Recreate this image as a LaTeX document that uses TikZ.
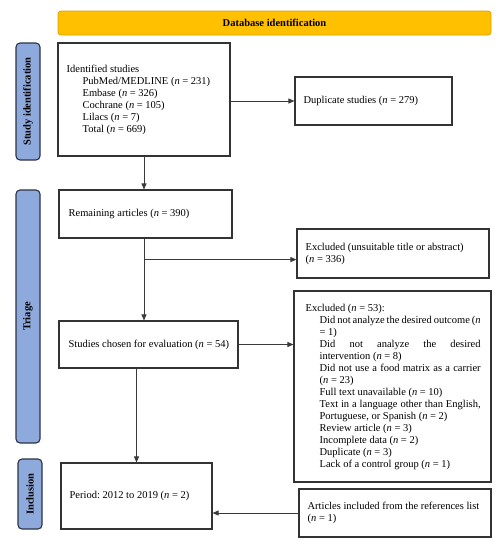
\documentclass[tikz,border=0pt]{standalone}
\usepackage{fontspec}
\setmainfont{Liberation Serif}
\usetikzlibrary{arrows.meta,positioning,calc}
\definecolor{banner}{HTML}{FFC000}
\definecolor{bannerline}{HTML}{D9A300}
\definecolor{side}{HTML}{8EA9DB}
\definecolor{sideline}{HTML}{2B3346}
\definecolor{boxline}{HTML}{333333}
\definecolor{conn}{HTML}{3A3A3A}
\newcommand{\nn}{\textit{n}}
\frenchspacing
\begin{document}
\begin{tikzpicture}[x=1pt,y=-1pt,
  every node/.style={font=\fontsize{10.5}{12}\selectfont},
  flowbox/.style={draw=boxline,line width=1.1pt,inner sep=0pt},
  label/.style={anchor=west,inner sep=0pt,align=left},
  sidebar/.style={draw=sideline,fill=side,line width=1.1pt,rounded corners=4pt,inner sep=0pt,
     minimum width=24pt,font=\fontsize{10.5}{12}\selectfont\bfseries},
  conn/.style={draw=conn,line width=0.8pt,-{Triangle[length=6pt,width=5pt]}},
  plain/.style={draw=conn,line width=0.8pt}]
\useasboundingbox (0,0) rectangle (501,550);
% banner
\node[draw=bannerline,fill=banner,line width=0.8pt,rounded corners=3pt,minimum width=433pt,minimum height=24pt,
  font=\fontsize{10.5}{12}\selectfont\bfseries] (banner) at (274.5,23) {Database identification};
% side bars
\node[sidebar,minimum height=117pt] (sid) at (28,101.5) {\rotatebox{90}{Study identification}};
\node[sidebar,minimum height=253pt] (tri) at (28,316.5) {\rotatebox{90}{Triage}};
\node[sidebar,minimum height=70pt] (inc) at (30,494) {\rotatebox{90}{Inclusion}};
% boxes
\node[flowbox,minimum width=172pt,minimum height=113pt] (ident) at (144,99.5) {};
\node[label] (identt) at ([xshift=9pt]ident.west)
 {Identified studies\\
  \hspace*{16pt}PubMed/MEDLINE (\nn{} = 231)\\
  \hspace*{16pt}Embase (\nn{} = 326)\\
  \hspace*{16pt}Cochrane (\nn{} = 105)\\
  \hspace*{16pt}Lilacs (\nn{} = 7)\\
  \hspace*{16pt}Total (\nn{} = 669)};
\node[flowbox,minimum width=157pt,minimum height=48pt] (dup) at (373.5,101) {};
\node[label] (dupt) at ([xshift=9pt]dup.west) {Duplicate studies (\nn{} = 279)};
\node[flowbox,minimum width=173pt,minimum height=48pt] (rem) at (145.5,214) {};
\node[label] (remt) at ([xshift=10pt]rem.west) {Remaining articles (\nn{} = 390)};
\node[flowbox,minimum width=192pt,minimum height=49pt] (exa) at (393,253.5) {};
\node[label] (exat) at ([xshift=9pt]exa.west) {Excluded (unsuitable title or abstract)\\(\nn{} = 336)};
\node[flowbox,minimum width=179pt,minimum height=47pt] (study) at (148.5,344.5) {};
\node[label] (studyt) at ([xshift=10pt]study.west) {Studies chosen for evaluation (\nn{} = 54)};
\node[flowbox,minimum width=197pt,minimum height=191pt] (exb) at (392.5,386.5) {};
\node[label,text width=175pt,align=justify] (exbt) at ([xshift=12pt]exb.west)
 {\parindent=0pt Excluded (\nn{} = 53):\par
  \leftskip=14pt
  Did not analyze the desired outcome (\nn\linebreak = 1)\par
  Did not analyze the desired\linebreak intervention (\nn{} = 8)\par
  Did not use a food matrix as a carrier\linebreak (\nn{} = 23)\par
  Full text unavailable (\nn{} = 10)\par
  Text in a language other than English,\linebreak Portuguese, or Spanish (\nn{} = 2)\par
  Review article (\nn{} = 3)\par
  Incomplete data (\nn{} = 2)\par
  Duplicate (\nn{} = 3)\par
  Lack of a control group (\nn{} = 1)\par};
\node[flowbox,minimum width=151pt,minimum height=66pt] (per) at (136.5,496) {};
\node[label] (pert) at ([xshift=9pt]per.west) {Period: 2012 to 2019 (\nn{} = 2)};
\node[flowbox,minimum width=192pt,minimum height=48pt] (ref) at (395,513) {};
\node[label] (reft) at ([xshift=9pt]ref.west) {Articles included from the references list\\(\nn{} = 1)};
% connectors
\draw[conn] (ident.east |- dup.west) -- (dup.west);
\draw[conn] (ident.south) -- (ident.south |- rem.north);
\coordinate (br) at ($(ident.south |- rem.south)+(0,21)$);
\draw[plain] (ident.south |- rem.south) -- (br);
\draw[conn] (br) -- (br -| exa.west);
\draw[conn] (br) -- (ident.south |- study.north);
\draw[conn] (study.east) -- (study.east -| exb.west);
\draw[conn] (per.north |- study.south) -- (per.north);
\draw[conn] (ref.west) -- (ref.west -| per.east);
\end{tikzpicture}
\end{document}
